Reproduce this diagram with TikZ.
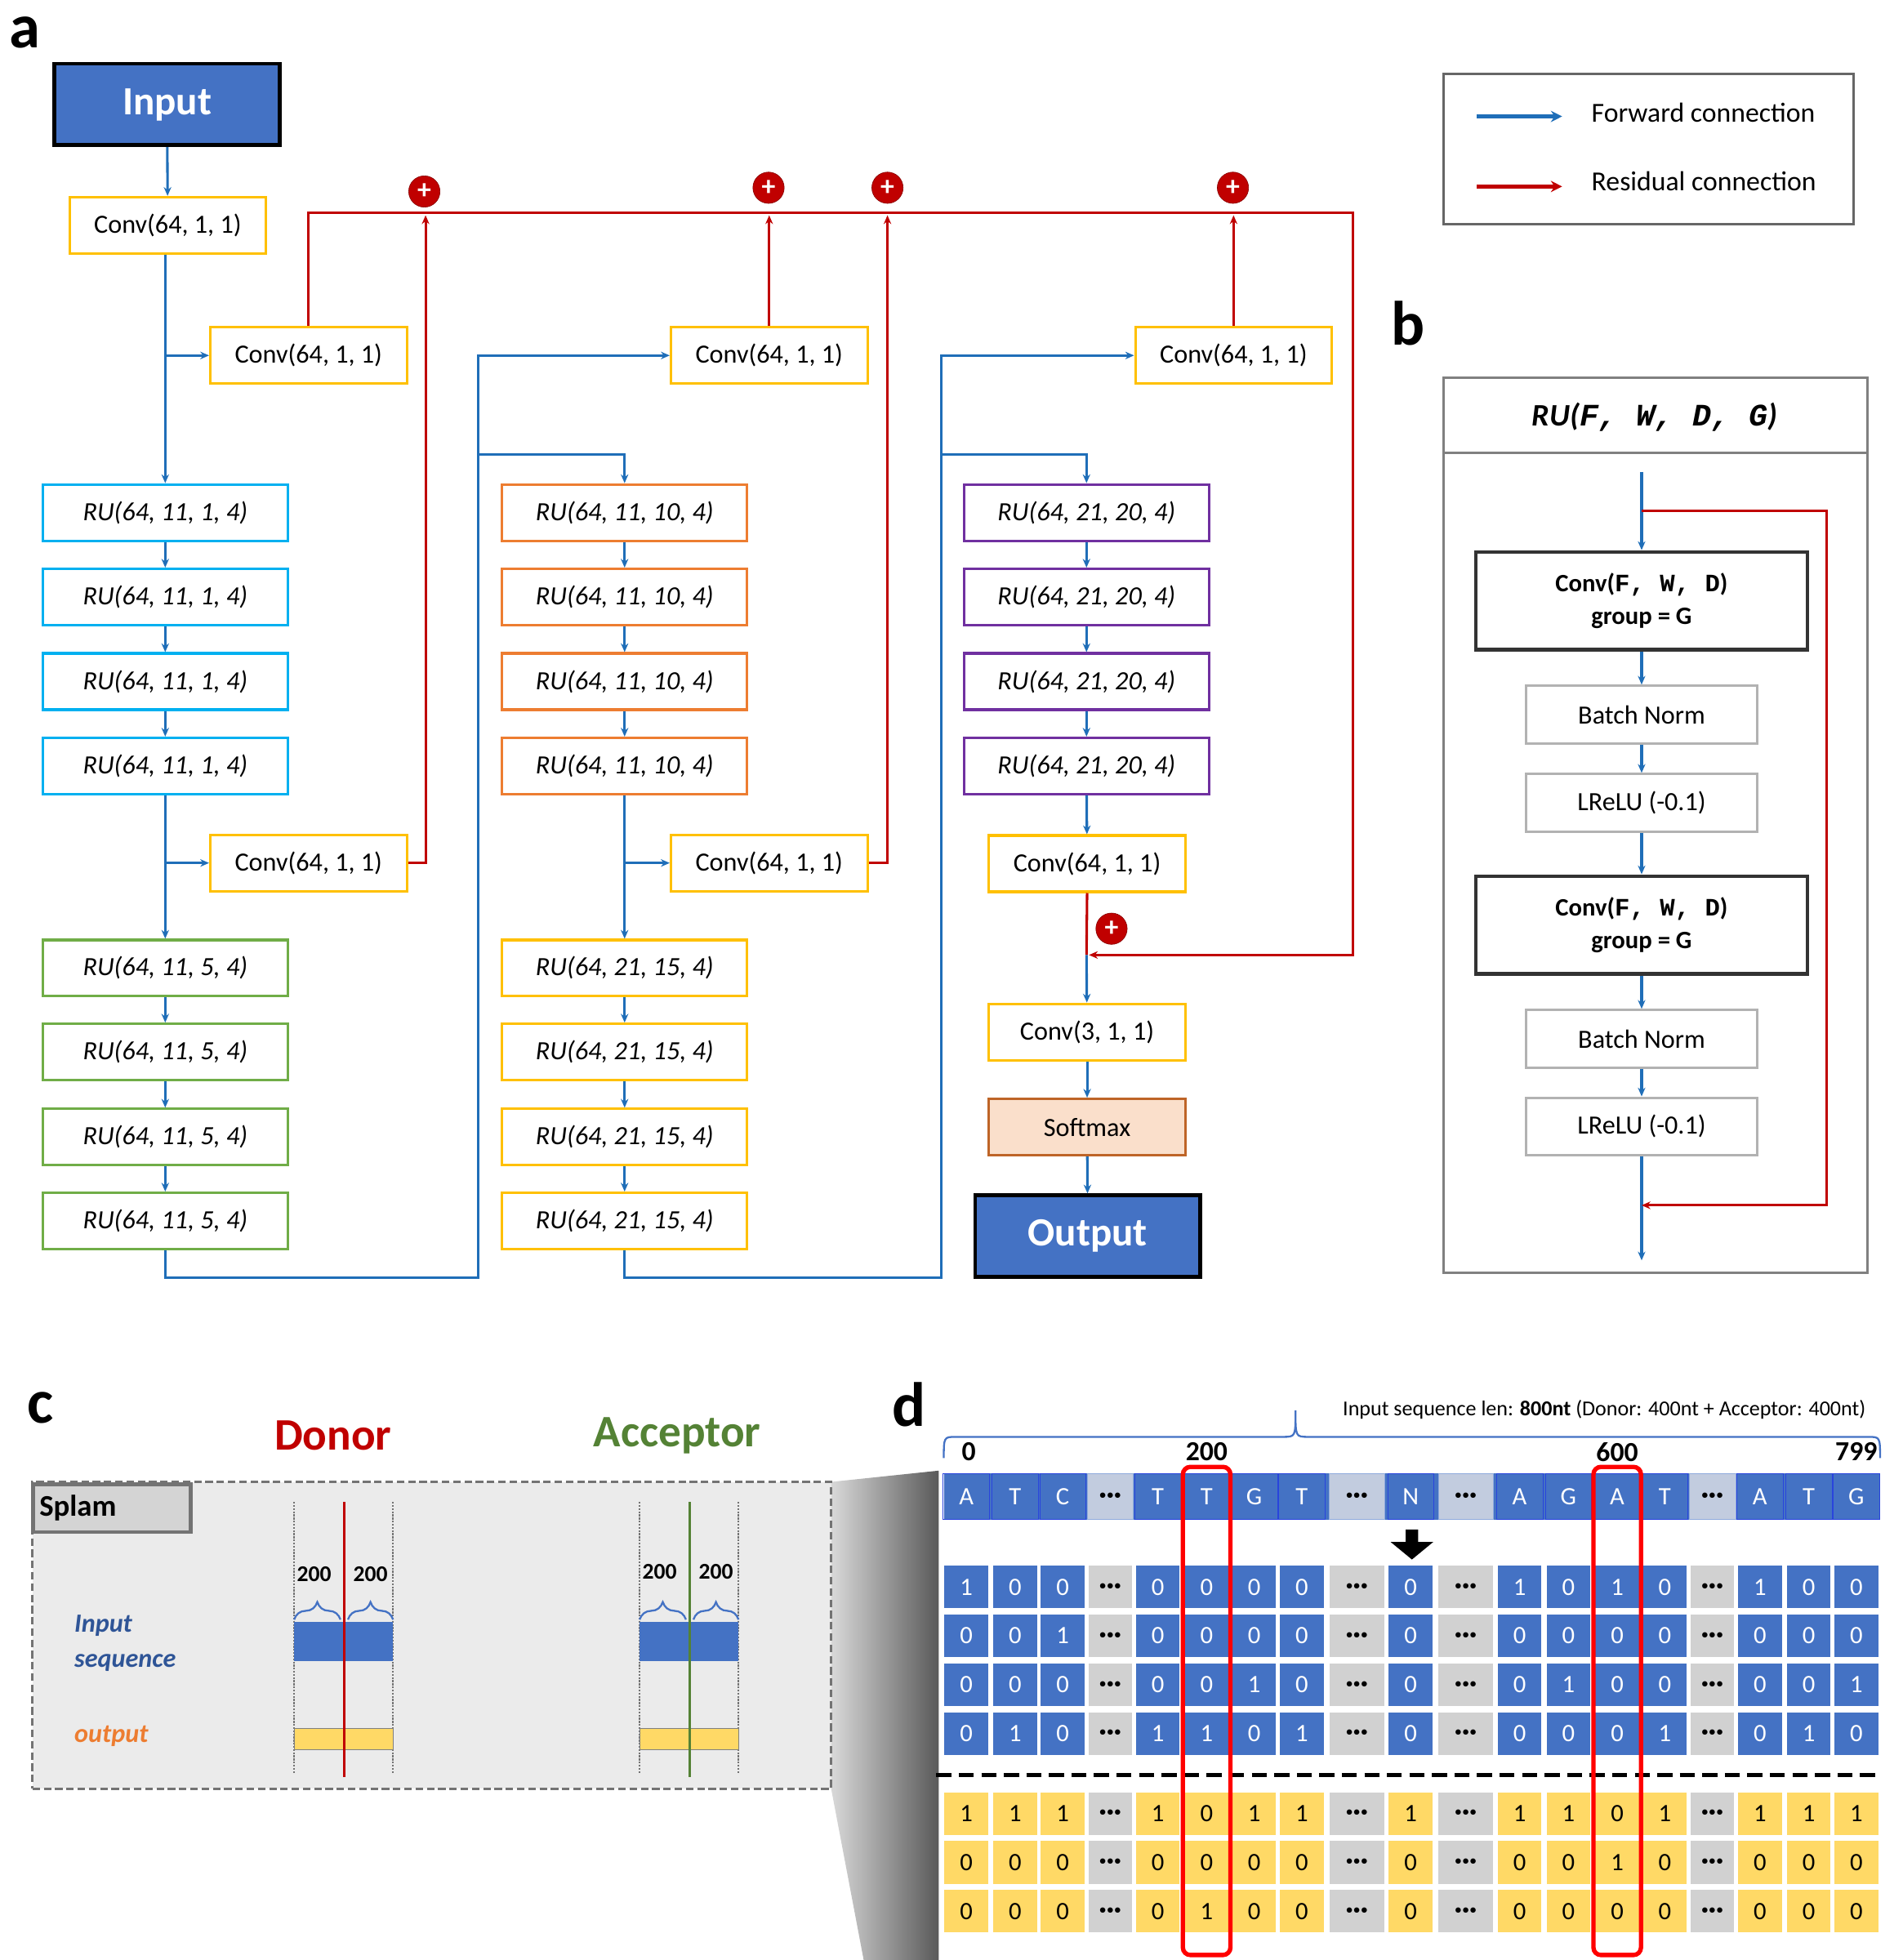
\documentclass[tikz,border=0pt]{standalone}
\usepackage{fontspec}
\setmainfont{Carlito}
\newfontfamily\mono{Liberation Mono}
\usetikzlibrary{arrows.meta,decorations.pathreplacing}
\definecolor{cblue}{HTML}{4472C4}
\definecolor{lblue}{HTML}{1F6EB8}
\definecolor{cred}{HTML}{C00000}
\definecolor{cyel}{HTML}{FFC000}
\definecolor{ccyan}{HTML}{00B0F0}
\definecolor{cgreen}{HTML}{70AD47}
\definecolor{corange}{HTML}{ED7D31}
\definecolor{cpurple}{HTML}{7030A0}
\definecolor{dgreen}{HTML}{548235}
\definecolor{ygold}{HTML}{FFD966}
\definecolor{seqblue}{HTML}{2F5597}
\newcommand{\dts}{{\fontsize{12}{12}\selectfont\textbullet\textbullet\textbullet}}
\begin{document}
\begin{tikzpicture}[x=1pt,y=-1pt,
 box/.style={draw, line width=2pt, minimum height=45pt, inner sep=0pt, font=\fontsize{21}{24}\selectfont},
 ru/.style={box, minimum width=196pt, font=\fontsize{21}{24}\selectfont\itshape},
 cv/.style={box, draw=cyel, minimum width=157pt},
 fw/.style={draw=lblue, line width=2pt, -{Stealth[length=7pt,width=6pt]}},
 rs/.style={draw=cred, line width=2pt, -{Stealth[length=7pt,width=6pt]}},
 rl/.style={draw=cred, line width=2pt},
 plus/.style={circle, fill=cred, draw=cred!70!black, minimum size=25pt, inner sep=0pt, text=white, font=\fontsize{22}{22}\selectfont\bfseries},
 big/.style={draw=black, line width=3pt, fill=cblue, text=white, minimum width=180pt, minimum height=65pt, font=\fontsize{32}{34}\selectfont\bfseries},
 bb/.style={draw=black!80, line width=3pt, minimum width=265pt, minimum height=78pt, align=center, font=\fontsize{20}{26}\selectfont\bfseries},
 gb/.style={draw=black!30, line width=2pt, minimum width=185pt, minimum height=46pt, font=\fontsize{21}{24}\selectfont},
 lab/.style={font=\fontsize{50}{50}\selectfont\bfseries},
 cell/.style={minimum width=35pt, minimum height=34pt, inner sep=0pt, font=\fontsize{20}{20}\selectfont},
 brc/.style={cblue, line width=1.5pt, decorate, decoration={brace,amplitude=14pt,aspect=0.5}},
]
\useasboundingbox (0,0) rectangle (1520,1566);
% labels
\node[lab] (la) at (20,26) {a};
\node[lab] (lb) at (1125,258) {b};
\node[lab] (lc) at (32,1125) {c};
\node[lab] (ld) at (726,1122) {d};

% ---------- panel a
\node[big] (in) at (133.5,83.5) {Input};
\node[cv] (c0) at (134,180) {Conv(64, 1, 1)};
\node[cv] (c1a) at (246.5,284) {Conv(64, 1, 1)};
\node[cv] (c1b) at (246.5,689.5) {Conv(64, 1, 1)};
\node[cv] (c2a) at (614.5,284) {Conv(64, 1, 1)};
\node[cv] (c2b) at (614.5,689.5) {Conv(64, 1, 1)};
\node[cv] (c3a) at (985.5,284) {Conv(64, 1, 1)};
\node[cv] (c3b) at (868.5,690) {Conv(64, 1, 1)};
\node[cv] (c3c) at (868.5,824.5) {Conv(3, 1, 1)};
\node[box, draw=corange!80!black, fill=corange!25, minimum width=157pt] (sm) at (868.5,900.5) {Softmax};
\node[big] (out) at (869,987.5) {Output};

\foreach \n/\y in {1/409.5,2/477,3/544.5,4/612}{
 \node[ru, draw=ccyan] (r\n) at (132,\y) {RU(64, 11, 1, 4)};
 \node[ru, draw=corange] (o\n) at (499,\y) {RU(64, 11, 10, 4)};
 \node[ru, draw=cpurple] (p\n) at (868,\y) {RU(64, 21, 20, 4)};
}
\foreach \n/\y in {1/773.5,2/840.5,3/908.5,4/975.5}{
 \node[ru, draw=cgreen] (g\n) at (132,\y) {RU(64, 11, 5, 4)};
 \node[ru, draw=cyel] (y\n) at (499,\y) {RU(64, 21, 15, 4)};
}
\foreach \a/\b in {r1/r2,r2/r3,r3/r4,r4/g1,g1/g2,g2/g3,g3/g4,o1/o2,o2/o3,o3/o4,o4/y1,y1/y2,y2/y3,y3/y4,p1/p2,p2/p3,p3/p4,p4/c3b,c3c/sm,sm/out}
 \draw[fw] (\a) -- (\b);
\draw[fw] (in) -- (c0);
\draw[fw] (c0.south -| r1.north) -- (r1);
\draw[fw] (r1.north |- c1a) -- (c1a.west);
\draw[fw] (r4.south |- c1b) -- (c1b.west);
\draw[fw] (o4.south |- c2b) -- (c2b.west);
\coordinate (j1) at (382,1021); \coordinate (b1) at (382,363);
\coordinate (j2) at (752,1021); \coordinate (b2) at (752,363);
\draw[fw] (g4.south) |- (j1) |- (c2a.west);
\draw[fw] (b1) -| (o1.north);
\draw[fw] (y4.south) |- (j2) |- (c3a.west);
\draw[fw] (b2) -| (p1.north);
% residual
\coordinate (rt) at (1081,170); \coordinate (rb) at (870,763);
\draw[rs] (c1a.north) |- (rt) |- (rb);
\draw[rl] (c3b.south) -- (868,763);
\draw[fw] (868,763) -- (c3c);
\coordinate (a1) at (340,172); \coordinate (a2) at (614.5,172);
\coordinate (a3) at (709,172); \coordinate (a4) at (985.5,172);
\draw[rs] (c1b.east) -| (a1);
\draw[rs] (c2a.north) -- (a2);
\draw[rs] (c2b.east) -| (a3);
\draw[rs] (c3a.north) -- (a4);
\node[plus] (q1) at (339,153) {+};
\node[plus] (q2) at (614,150) {+};
\node[plus] (q3) at (709,150) {+};
\node[plus] (q4) at (985,150) {+};
\node[plus] (q5) at (888,742) {+};

% legend
\node[draw=black!60, line width=2pt, minimum width=328pt, minimum height=120pt] (leg) at (1317,119) {};
\coordinate (l1) at (1180,93); \coordinate (l2) at (1248,93);
\coordinate (l3) at (1180,149); \coordinate (l4) at (1248,149);
\draw[draw=lblue, line width=3pt, -{Stealth[length=9pt,width=9pt]}] (l1) -- (l2);
\draw[draw=cred, line width=3pt, -{Stealth[length=9pt,width=9pt]}] (l3) -- (l4);
\node[anchor=west, font=\fontsize{22}{24}\selectfont] (t1) at (1268,90) {Forward connection};
\node[anchor=west, font=\fontsize{22}{24}\selectfont] (t2) at (1268,145) {Residual connection};

% ---------- panel b
\node[draw=black!50, line width=2pt, minimum width=339pt, minimum height=715pt] (bx) at (1322.5,659.5) {};
\draw[draw=black!50, line width=2pt] (bx.north west) ++(0,61) coordinate (hl) -- (hl -| bx.east);
\node[font=\fontsize{25}{26}\selectfont\bfseries\itshape] (bh) at (1322,333) {RU({\mono\bfseries\itshape F,\ W,\ D,\ G})};
\node[bb] (bc1) at (1311.5,480) {Conv({\mono F, W, D})\\group = G};
\node[gb] (bn1) at (1311.5,571) {Batch Norm};
\node[gb] (lr1) at (1311.5,641.5) {LReLU (-0.1)};
\node[bb] (bc2) at (1311.5,739) {Conv({\mono F, W, D})\\group = G};
\node[gb] (bn2) at (1311.5,830) {Batch Norm};
\node[gb] (lr2) at (1311.5,900) {LReLU (-0.1)};
\coordinate (bt) at (1311.5,377); \coordinate (bs) at (1311.5,408);
\coordinate (br) at (1459,963); \coordinate (be) at (1311.5,963);
\coordinate (bend) at (1311.5,1007);
\draw[fw] (bt) -- (bc1);
\foreach \a/\b in {bc1/bn1,bn1/lr1,lr1/bc2,bc2/bn2,bn2/lr2} \draw[fw] (\a) -- (\b);
\draw[fw] (lr2) -- (bend);
\draw[rs] (bs) -| (br) -- (be);

% ---------- panel c
\node[font=\fontsize{36}{38}\selectfont\bfseries, text=cred] (don) at (266,1147) {Donor};
\node[font=\fontsize{36}{38}\selectfont\bfseries, text=dgreen] (acc) at (541,1147) {Acceptor};
\shade[left color=black!15, right color=black!65] (664,1184) -- (750,1175) -- (750,1566) -- (690,1566) -- (664,1429) -- cycle;
\node[draw=black!55, dash pattern=on 6pt off 3pt, line width=2pt, fill=black!8, minimum width=638pt, minimum height=245pt] (cbox) at (345,1306.5) {};
\node[draw=black!55, line width=3pt, fill=black!17, minimum width=126pt, minimum height=38pt, text width=116pt, font=\fontsize{24}{26}\selectfont\bfseries] (spl) at (89.5,1205) {Splam};
\node[anchor=west, text=seqblue, align=left, font=\fontsize{21}{28}\selectfont\bfseries\itshape] (isq) at (56,1313) {Input\\ sequence};
\node[anchor=west, text=corange, font=\fontsize{21}{24}\selectfont\bfseries\itshape] (ops) at (56,1387) {output};
\foreach \L/\C/\col/\ly in {235/275/cred/1258,511/551/dgreen/1256}{
 \draw[black!55, densely dotted, line width=1.5pt] (\L,1200) -- (\L,1417);
 \draw[black!55, densely dotted, line width=1.5pt] (\L+79,1200) -- (\L+79,1417);
 \fill[cblue] (\L,1296) rectangle (\L+79,1327);
 \draw[black!50, fill=ygold] (\L,1381) rectangle (\L+79,1398);
 \draw[\col, line width=2.5pt] (\C,1200) -- (\C,1420);
 \draw[brc] (\L,1294) -- (\L+37,1294);
 \draw[brc] (\L+43,1294) -- (\L+79,1294);
 \node[font=\fontsize{18}{18}\selectfont\bfseries] at (\L+16,\ly) {200};
 \node[font=\fontsize{18}{18}\selectfont\bfseries] at (\L+61,\ly) {200};
}

% ---------- panel d
\draw[cblue, line width=1.5pt] (754,1165) .. controls (754,1148) .. (764,1148) -- (1025,1148) .. controls (1035,1148) .. (1035,1127) .. controls (1035,1148) .. (1045,1148) -- (1492,1148) .. controls (1502,1148) .. (1502,1165);
\node[anchor=east, font=\fontsize{17}{18}\selectfont] (len) at (1494,1126) {Input sequence len: \textbf{800nt} (Donor: 400nt + Acceptor: 400nt)};
\foreach \t/\x in {0/774,200/964,600/1292,799/1483}
 \node[font=\fontsize{22}{22}\selectfont\bfseries] at (\x,1160) {\t};
\fill[cblue] (754,1177) rectangle (1502,1214);
\def\cellX{{772,811,849,887,925,964,1002,1040,1084,1127,1171,1214,1253,1292,1330,1368,1406,1445,1483}}
\foreach \v [count=\i] in {A,T,C,x,T,T,G,T,x,N,x,A,G,A,T,x,A,T,G}{
 \pgfmathsetmacro\cx{\cellX[\i-1]}
 \pgfmathsetmacro\cw{(\i==9||\i==11)?44:37}
 \if x\v
  \node[cell, fill=black!25!cblue!30, draw=cblue!60, minimum width=\cw pt, minimum height=37pt] (s\i) at (\cx,1195.5) {\dts};
 \else
  \node[cell, draw=blue!40!cblue, text=white, minimum width=\cw pt, minimum height=37pt] (s\i) at (\cx,1195.5) {\v};
 \fi
}
\fill[black] (1123,1222) -- (1133,1222) -- (1133,1232) -- (1145,1232) -- (1128,1246) -- (1111,1232) -- (1123,1232) -- cycle;
\foreach \yy/\row [count=\r] in {1268/{1,0,0,x,0,0,0,0,x,0,x,1,0,1,0,x,1,0,0},1307/{0,0,1,x,0,0,0,0,x,0,x,0,0,0,0,x,0,0,0},1346/{0,0,0,x,0,0,1,0,x,0,x,0,1,0,0,x,0,0,1},1385/{0,1,0,x,1,1,0,1,x,0,x,0,0,0,1,x,0,1,0}}{
 \foreach \v [count=\i] in \row {
  \pgfmathsetmacro\cx{\cellX[\i-1]}
  \pgfmathsetmacro\cw{(\i==9||\i==11)?44:35}
  \if x\v
   \node[cell, fill=black!18, minimum width=\cw pt] (b\r-\i) at (\cx,\yy) {\dts};
  \else
   \node[cell, fill=cblue, text=white] (b\r-\i) at (\cx,\yy) {\v};
  \fi
 }
}
\draw[black, line width=3.5pt, dash pattern=on 12pt off 6pt] (748,1418) -- (1502,1418);
\foreach \yy/\row [count=\r] in {1449/{1,1,1,x,1,0,1,1,x,1,x,1,1,0,1,x,1,1,1},1488/{0,0,0,x,0,0,0,0,x,0,x,0,0,1,0,x,0,0,0},1527/{0,0,0,x,0,1,0,0,x,0,x,0,0,0,0,x,0,0,0}}{
 \foreach \v [count=\i] in \row {
  \pgfmathsetmacro\cx{\cellX[\i-1]}
  \pgfmathsetmacro\cw{(\i==9||\i==11)?44:35}
  \if x\v
   \node[cell, fill=black!18, minimum width=\cw pt] (w\r-\i) at (\cx,\yy) {\dts};
  \else
   \node[cell, fill=ygold] (w\r-\i) at (\cx,\yy) {\v};
  \fi
 }
}
\draw[red, line width=3.5pt, rounded corners=6pt] (945,1172) rectangle (983,1562);
\draw[red, line width=3.5pt, rounded corners=6pt] (1273,1172) rectangle (1311,1562);
\end{tikzpicture}
\end{document}
